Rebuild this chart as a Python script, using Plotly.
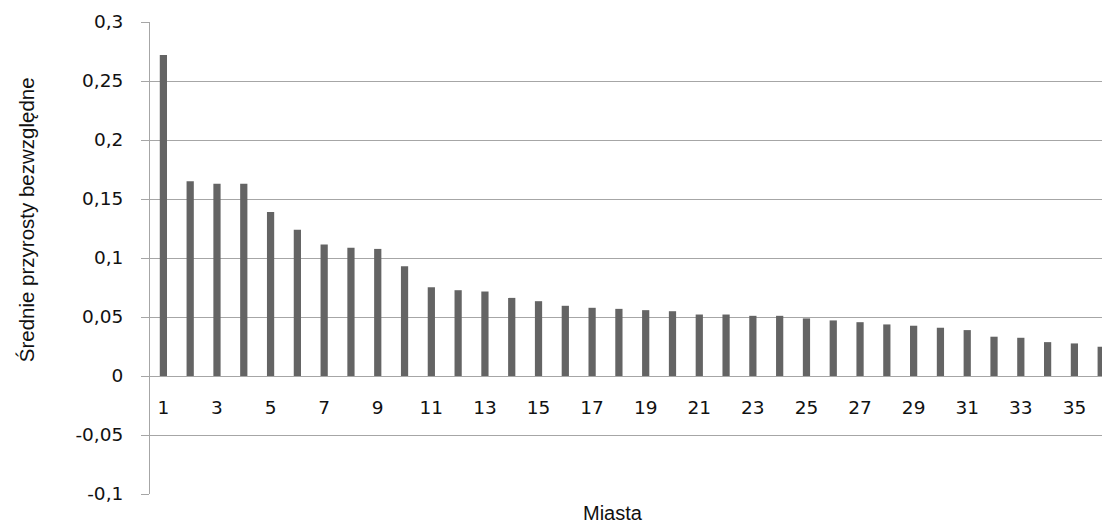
import plotly.graph_objects as go

# Data
cities = list(range(1, 37))
values = [0.272, 0.165, 0.163, 0.163, 0.139, 0.124, 0.1115, 0.1087, 0.1077, 0.093,
          0.0752, 0.0727, 0.0716, 0.0662, 0.0634, 0.0595, 0.0578, 0.0569, 0.0558, 0.0549,
          0.0521, 0.0521, 0.051, 0.051, 0.0488, 0.0471, 0.0456, 0.0437, 0.0426, 0.0409,
          0.0389, 0.0333, 0.0324, 0.0287, 0.0276, 0.0248]
x_tick_vals = [1, 3, 5, 7, 9, 11, 13, 15, 17, 19, 21, 23, 25, 27, 29, 31, 33, 35]
x_tick_text = [str(v) for v in x_tick_vals]
y_tick_vals = [-0.1, -0.05, 0, 0.05, 0.1, 0.15, 0.2, 0.25, 0.3]
y_tick_text = ["-0,1", "-0,05", "0", "0,05", "0,1", "0,15", "0,2", "0,25", "0,3"]

y_title = "Średnie przyrosty bezwzględne"
x_title = "Miasta"

GRID = "#a6a6a6"

fig = go.Figure()
fig.add_trace(go.Bar(
    x=cities, y=values, width=0.27,
    marker=dict(color="#646464", line=dict(width=0)),
))

fig.update_layout(
    width=1102, height=525,
    margin=dict(l=150, r=0, t=22, b=31),
    paper_bgcolor="white", plot_bgcolor="white",
    showlegend=False,
    xaxis=dict(
        range=[0.5, 36.03],
        tickvals=x_tick_vals, ticktext=x_tick_text,
        tickfont=dict(family="DejaVu Sans", size=18.5, color="#111111"),
        showgrid=False, zeroline=False,
        showline=True, linecolor=GRID, linewidth=1,
        anchor="free", position=0.25,
        ticks="", ticklabelstandoff=15,
    ),
    yaxis=dict(
        range=[-0.1, 0.3],
        tickvals=y_tick_vals, ticktext=y_tick_text,
        tickfont=dict(family="DejaVu Sans", size=18.5, color="#111111"),
        showgrid=True, gridcolor=GRID, gridwidth=1,
        zeroline=False,
        showline=True, linecolor=GRID, linewidth=1,
        ticks="outside", ticklen=8, tickcolor=GRID,
        ticklabelstandoff=14,
    ),
    annotations=[
        dict(text=y_title, xref="paper", yref="paper", x=-0.130, y=0.5805,
             xanchor="center", yanchor="middle", textangle=-90, showarrow=False,
             font=dict(family="Liberation Sans", size=20.5, color="#111111")),
        dict(text=x_title, xref="paper", yref="paper", x=0.4863, y=-0.0396,
             xanchor="center", yanchor="middle", showarrow=False,
             font=dict(family="Liberation Sans", size=20, color="#111111")),
    ],
)

fig.write_html(
    "out.html",
    config={"displayModeBar": False},
    post_script="document.body.style.margin='0';document.body.style.overflow='hidden';",
)
